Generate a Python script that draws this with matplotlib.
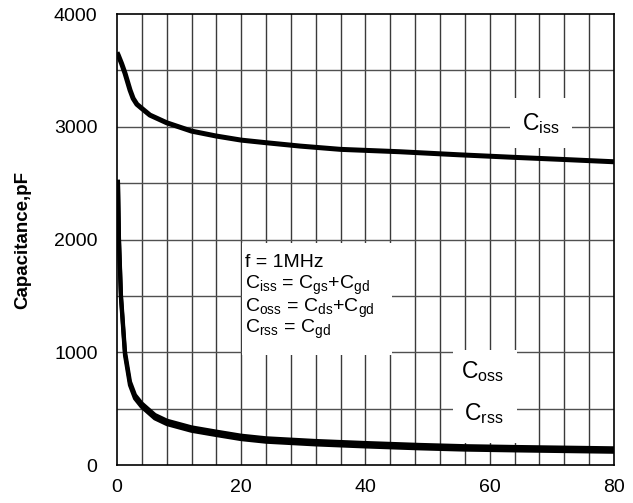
import matplotlib
matplotlib.use("Agg")
import matplotlib.pyplot as plt
from matplotlib.patches import Rectangle

plt.rcParams['font.family'] = ['Liberation Sans', 'DejaVu Sans']
plt.rcParams['mathtext.fontset'] = 'custom'
plt.rcParams['mathtext.rm'] = 'Liberation Sans'
plt.rcParams['mathtext.it'] = 'Liberation Sans'
plt.rcParams['mathtext.bf'] = 'Liberation Sans:bold'

# Data
vds_iss = [0, 0.2, 0.75, 1.3, 1.7, 2.1, 2.6, 3.2, 4, 5.3, 8, 12, 16, 20, 24, 29.5, 36, 45.5,
           55, 64, 72, 80]
ciss = [3660, 3636, 3560, 3474, 3400, 3326, 3252, 3200, 3163, 3104, 3036, 2962, 2918, 2882,
        2859, 2829, 2800, 2779, 2752, 2729, 2710, 2690]

vds_oss = [0.15, 0.32, 0.64, 1.29, 2.09, 2.9, 3.97, 6.1, 8.05, 12, 16, 20, 24, 32, 40, 48.8,
           56, 64, 72, 80]
coss = [2530, 2010, 1510, 1005, 739, 621, 547, 444, 393, 334, 296, 260, 237, 213, 195, 178,
        167, 160, 154, 148]
crss = [2530, 1985, 1482, 975, 709, 591, 517, 414, 363, 304, 266, 230, 207, 183, 165, 148,
        137, 130, 124, 118]

x_ticks = [0, 20, 40, 60, 80]
y_ticks = [0, 1000, 2000, 3000, 4000]

fig = plt.figure(figsize=(6.33, 5.03), dpi=100)
ax = fig.add_axes([0.1848, 0.0755, 0.7852, 0.8965])

ax.set_xlim(0, 80)
ax.set_ylim(0, 4000)

# grid
for gx in range(4, 80, 4):
    ax.axvline(gx, color='#3a3a3a', lw=1.0, zorder=1)
for gy in range(500, 4000, 500):
    ax.axhline(gy, color='#505050', lw=1.0, zorder=1)

ax.plot(vds_iss, ciss, color='black', lw=3.6, zorder=5, solid_capstyle='butt')
ax.plot(vds_oss, coss, color='black', lw=3.0, zorder=5, solid_capstyle='butt')
ax.plot(vds_oss, crss, color='black', lw=3.0, zorder=5, solid_capstyle='butt')

ax.set_xticks(x_ticks)
ax.set_yticks(y_ticks)
ax.tick_params(axis='y', length=0, labelsize=14, pad=14, colors='black')
ax.tick_params(axis='x', length=0, labelsize=14, pad=10, colors='black')
ax.set_ylabel('Capacitance,pF', fontsize=13.5, fontweight='bold')
ax.yaxis.set_label_coords(-0.172, 0.5)
for s in ax.spines.values():
    s.set_color('black')
    s.set_linewidth(1.2)
    s.set_zorder(6)

# white boxes behind labels
ax.add_patch(Rectangle((20.1, 976), 24.2, 993, facecolor='white', edgecolor='none', zorder=3))
ax.add_patch(Rectangle((63.3, 2811), 10.0, 444, facecolor='white', edgecolor='none', zorder=3))
ax.add_patch(Rectangle((54.1, 195), 10.3, 825, facecolor='white', edgecolor='none', zorder=3))

lines = ['f = 1MHz',
         r'C$_{\mathrm{iss}}$ = C$_{\mathrm{gs}}$+C$_{\mathrm{gd}}$',
         r'C$_{\mathrm{oss}}$ = C$_{\mathrm{ds}}$+C$_{\mathrm{gd}}$',
         r'C$_{\mathrm{rss}}$ = C$_{\mathrm{gd}}$']
ys = [1758, 1561, 1360, 1171]
for t, yy in zip(lines, ys):
    ax.text(20.6, yy, t, fontsize=14, va='baseline', ha='left', zorder=4)

ax.text(68.2, 3033, r'C$_{\mathrm{iss}}$', fontsize=16.5, ha='center', va='center', zorder=4)
ax.text(58.9, 827, r'C$_{\mathrm{oss}}$', fontsize=16.5, ha='center', va='center', zorder=4)
ax.text(59.1, 461, r'C$_{\mathrm{rss}}$', fontsize=16.5, ha='center', va='center', zorder=4)

fig.savefig('out.png', dpi=100, facecolor='white')
